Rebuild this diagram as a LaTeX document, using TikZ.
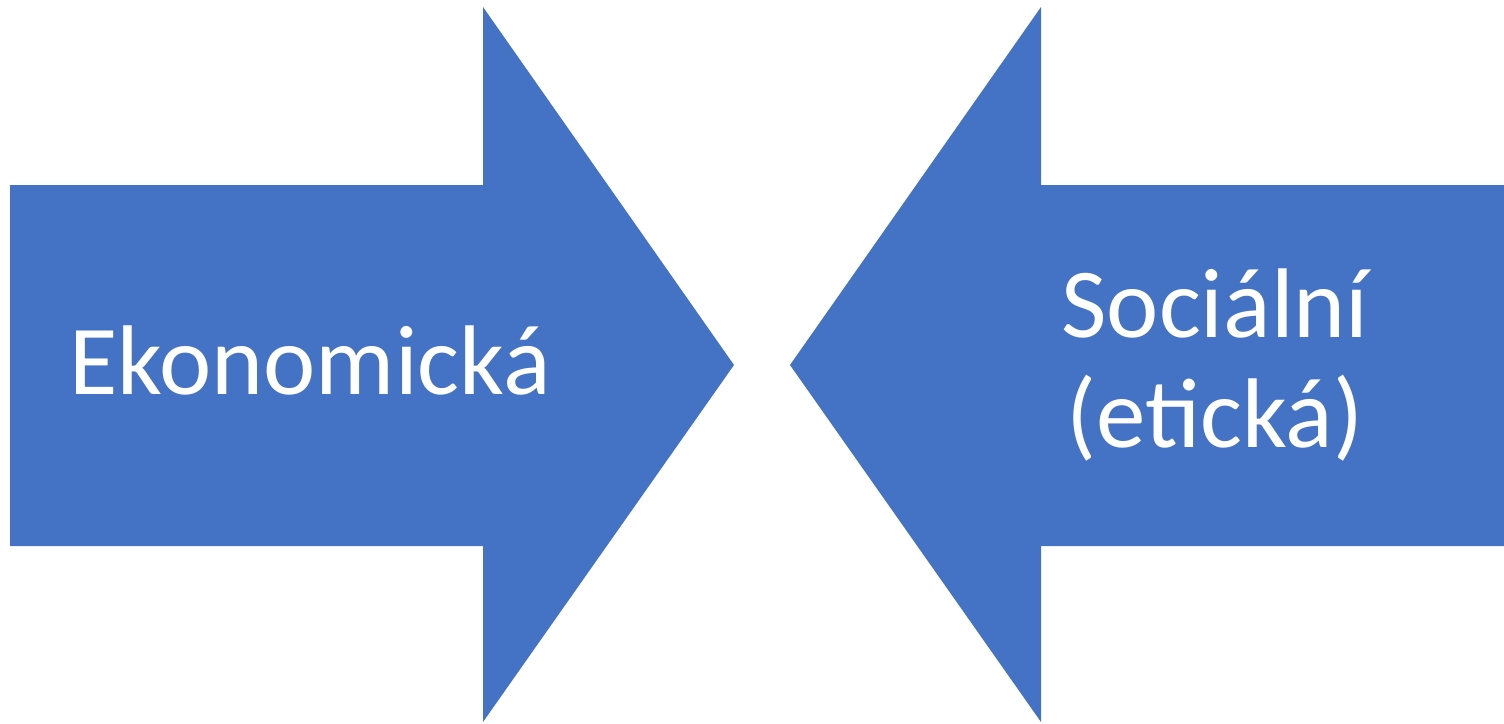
\documentclass[tikz,border=0pt]{standalone}
\usepackage{fontspec}
\setmainfont{Carlito}
\definecolor{arrowblue}{HTML}{4472C4}
\begin{document}
\begin{tikzpicture}[x=1pt,y=-1pt,
  blockarrow/.style={fill=arrowblue,draw=none},
  label/.style={text=white,font=\fontsize{99}{110}\selectfont,inner sep=0pt,anchor=base}]
\useasboundingbox (0,0) rectangle (1504,723);
\fill[blockarrow] (10,185) -- (483,185) -- (483,7) -- (734,365) -- (483,722) -- (483,546) -- (10,546) -- cycle;
\fill[blockarrow] (1504,185) -- (1041,185) -- (1041,7) -- (790,365) -- (1041,722) -- (1041,546) -- (1504,546) -- cycle;
\node[label] (eko) at (310,394) {Ekonomická};
\node[label] (soc1) at (1215,337) {Sociální};
\node[label] (soc2) at (1215,447) {(etická)};
\end{tikzpicture}
\end{document}
